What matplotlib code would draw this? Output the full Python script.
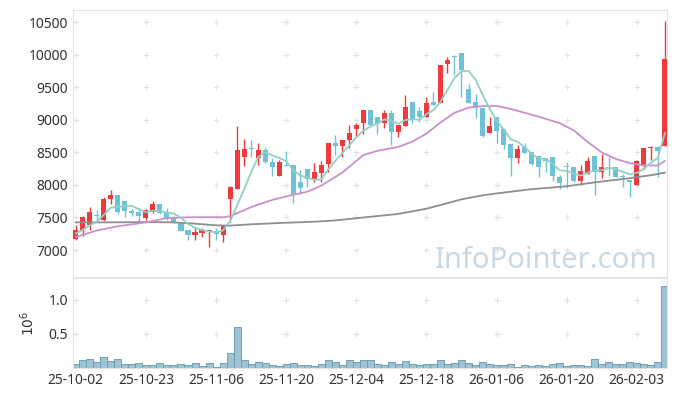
import matplotlib.pyplot as plt
import numpy as np
import pandas as pd

plt.rcParams['font.family'] = ['Noto Sans', 'DejaVu Sans']

# x축 라벨 (10 거래일 간격)
tick_labels = ['25-10-02', '25-10-23', '25-11-06', '25-11-20', '25-12-04',
               '25-12-18', '26-01-06', '26-01-20', '26-02-03']

# 일봉 데이터
opens = [7174, 7308, 7379, 7545, 7462, 7779, 7846, 7754, 7605, 7585,
         7492, 7590, 7703, 7585, 7503, 7436, 7308, 7231, 7267, 7292,
         7292, 7231, 7785, 7944, 8436, 8574, 8420, 8538, 8359, 8144,
         8310, 8308, 8051, 8246, 8097, 8190, 8323, 8646, 8600, 8692,
         8862, 8959, 9154, 9041, 8949, 9103, 8820, 8908, 9277, 9138,
         9051, 9277, 9256, 9856, 9979, 10026, 9472, 9282, 9179, 8805,
         9041, 8856, 8631, 8410, 8580, 8513, 8446, 8410, 8426, 8118,
         8277, 8282, 8067, 8169, 8446, 8205, 8282, 8272, 8144, 8077,
         8005, 8313, 8569, 8590, 8600]
highs = [7379, 7523, 7656, 7610, 7820, 7923, 7846, 7754, 7626, 7641,
         7631, 7754, 7703, 7641, 7523, 7436, 7308, 7333, 7333, 7308,
         7333, 7369, 7985, 8908, 8703, 8692, 8641, 8585, 8410, 8385,
         8513, 8308, 8231, 8246, 8333, 8369, 8641, 8769, 8692, 8923,
         8949, 9154, 9154, 9041, 9154, 9154, 8923, 9385, 9277, 9205,
         9349, 9436, 9846, 9964, 10000, 10026, 9554, 9395, 9179, 9041,
         9041, 8856, 8631, 8615, 8641, 8513, 8446, 8410, 8426, 8154,
         8349, 8282, 8303, 8436, 8446, 8477, 8436, 8272, 8169, 8077,
         8385, 8569, 8600, 8600, 10528]
lows = [7154, 7215, 7308, 7460, 7451, 7708, 7554, 7503, 7523, 7420,
        7462, 7564, 7554, 7462, 7420, 7297, 7154, 7154, 7195, 7051,
        7154, 7128, 7436, 7944, 8297, 8436, 8313, 8333, 8144, 8133,
        8290, 7718, 7856, 7974, 8051, 8046, 8205, 8462, 8436, 8574,
        8733, 8785, 8897, 8785, 8872, 8615, 8733, 8908, 8949, 8974,
        9041, 9231, 9256, 9718, 9692, 9349, 9267, 9026, 8733, 8805,
        8641, 8549, 8138, 8333, 8497, 8308, 8128, 8205, 8067, 7933,
        7959, 8051, 7995, 8164, 7846, 8103, 8144, 8128, 7964, 7810,
        8005, 8246, 8385, 8128, 8600]
closes = [7308, 7508, 7585, 7530, 7779, 7846, 7590, 7605, 7574, 7523,
          7615, 7703, 7564, 7487, 7420, 7297, 7231, 7282, 7308, 7308,
          7246, 7369, 7964, 8538, 8549, 8549, 8538, 8359, 8282, 8349,
          8297, 7856, 7959, 8097, 8200, 8308, 8641, 8600, 8692, 8800,
          8923, 9154, 8923, 8939, 9103, 8820, 8923, 9205, 9010, 9051,
          9256, 9231, 9846, 9923, 9969, 9769, 9267, 9179, 8754, 8908,
          8836, 8615, 8410, 8549, 8497, 8323, 8272, 8374, 8138, 8026,
          8272, 8067, 8210, 8369, 8205, 8277, 8256, 8128, 8128, 8046,
          8369, 8569, 8590, 8518, 9933]
# 거래량 (백만 주)
volumes = [0.059, 0.113, 0.127, 0.088, 0.157, 0.103, 0.127, 0.059, 0.059, 0.074,
           0.044, 0.044, 0.074, 0.044, 0.044, 0.059, 0.044, 0.074, 0.029, 0.074,
           0.010, 0.074, 0.220, 0.598, 0.113, 0.059, 0.088, 0.074, 0.044, 0.029,
           0.059, 0.074, 0.044, 0.044, 0.029, 0.059, 0.113, 0.088, 0.044, 0.113,
           0.088, 0.116, 0.118, 0.059, 0.039, 0.088, 0.059, 0.103, 0.059, 0.039,
           0.059, 0.059, 0.118, 0.059, 0.074, 0.118, 0.074, 0.039, 0.088, 0.059,
           0.039, 0.039, 0.059, 0.008, 0.044, 0.029, 0.039, 0.029, 0.059, 0.074,
           0.029, 0.039, 0.039, 0.029, 0.132, 0.059, 0.088, 0.059, 0.059, 0.088,
           0.074, 0.059, 0.039, 0.088, 1.206]

# 이동평균선
ma5_head = [7256, 7310, 7380, 7436]
ma20_idx = [0, 3, 6, 10, 13, 16, 19, 21, 22, 25, 28, 31, 33, 35, 38, 41, 43, 46,
            48, 50, 52, 54, 56, 58, 60, 62, 64, 66, 69, 71, 73, 75, 77, 79, 81, 83, 84]
ma20_val = [7200, 7300, 7365, 7425, 7490, 7503, 7505, 7503, 7520, 7660, 7770, 7850,
            7895, 7990, 8190, 8460, 8525, 8585, 8667, 8790, 8960, 9110, 9190, 9212,
            9215, 9170, 9110, 9050, 8950, 8840, 8660, 8500, 8400, 8335, 8300, 8300, 8370]
ma60_idx = [0, 5, 10, 14, 17, 20, 22, 25, 29, 34, 37, 41, 46, 50, 53, 55, 58, 60,
            65, 70, 74, 79, 82, 84]
ma60_val = [7425, 7425, 7430, 7425, 7405, 7380, 7375, 7395, 7415, 7435, 7455, 7500,
            7555, 7635, 7720, 7780, 7840, 7870, 7935, 7980, 8040, 8105, 8150, 8190]

UP = '#ee3a3d'
DOWN = '#6ec2d8'
GRID = '#e2e2e2'

n = len(closes)
x = np.arange(n)
ma5 = pd.Series(closes).rolling(5).mean().to_numpy()
ma5[:4] = ma5_head

fig = plt.figure(figsize=(6.77, 3.96), dpi=100)
ax = fig.add_axes([0.1078, 0.3005, 0.8774, 0.6742])
axv = fig.add_axes([0.1078, 0.0707, 0.8774, 0.2273], sharex=ax)

# 격자 대신 '+' 표시
yt = np.arange(7000, 10501, 500)
xt = np.arange(0, n, 10)
gx, gy = np.meshgrid(xt, yt)
ax.scatter(gx.ravel(), gy.ravel(), marker='+', s=14, color=GRID, lw=0.8, zorder=0)

ax.text(83.0, 6845, 'InfoPointer.com', fontsize=21, color='#c8d9e4',
        ha='right', va='center', zorder=1)

for i in range(n):
    o, h, l, c = opens[i], highs[i], lows[i], closes[i]
    col = UP if c >= o else DOWN
    ax.vlines(i, l, h, color=col, lw=1.0, zorder=2)
    ax.bar(i, max(abs(c - o), 14), bottom=min(o, c), width=0.72, color=col,
           lw=0, zorder=3)

ax.plot(ma60_idx, ma60_val, color='#8e8e8e', lw=1.3, zorder=4)
ax.plot(ma20_idx, ma20_val, color='#cc90c9', lw=1.3, zorder=4)
ax.plot(x, ma5, color='#90d0c6', lw=1.3, zorder=4)

ax.set_ylim(6585, 10690)
ax.set_yticks(yt)
ax.set_xlim(-0.4, n - 0.7)
ax.tick_params(axis='both', length=0, labelsize=10, colors='#333333')
ax.tick_params(axis='x', labelbottom=False)
for s in ax.spines.values():
    s.set_color('#e3e3e3')

# 거래량
vx, vy = np.meshgrid(xt, [0.5, 1.0])
axv.scatter(vx.ravel(), vy.ravel(), marker='+', s=14, color=GRID, lw=0.8, zorder=0)
axv.bar(x, volumes, width=1.0, color='#9dc3d4', edgecolor='#6e9fb5', lw=0.7, zorder=2)
axv.set_ylim(0, 1.32)
axv.set_yticks([0.5, 1.0])
axv.set_yticklabels(['0.5', '1.0'])
axv.set_ylabel(r'$10^6$', fontsize=10, color='#333333', labelpad=8)
axv.set_xticks(xt)
axv.set_xticklabels(tick_labels)
axv.tick_params(axis='both', length=0, labelsize=10, colors='#333333')
for s in axv.spines.values():
    s.set_color('#e3e3e3')

fig.savefig('out.png', dpi=100)
